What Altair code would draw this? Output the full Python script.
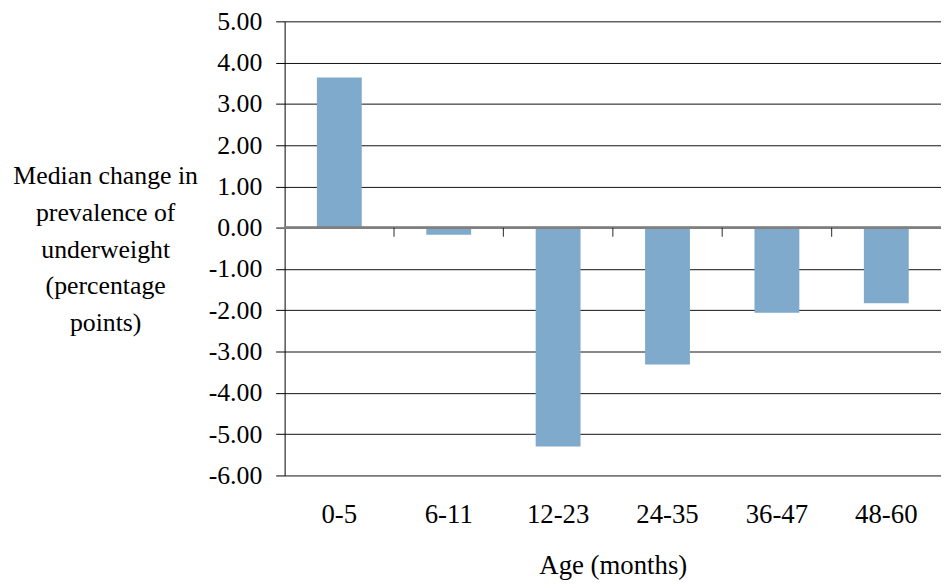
import altair as alt
import pandas as pd

ages = ["0-5", "6-11", "12-23", "24-35", "36-47", "48-60"]
changes = [3.64, -0.17, -5.30, -3.31, -2.06, -1.83]
y_ticks = [-6, -5, -4, -3, -2, -1, 0, 1, 2, 3, 4, 5]
y_title = ["Median change in", "prevalence of", "underweight", "(percentage", "points)"]
x_title = "Age (months)"

df = pd.DataFrame({"age": ages, "change": changes})
bounds = pd.DataFrame({"age": ages[1:]})

FONT = "'Liberation Serif', 'Times New Roman', serif"
W, H = 662, 458
step = W / len(ages)

xscale = alt.Scale(domain=ages, paddingInner=0.59, paddingOuter=0.295)

bars = alt.Chart(df).mark_bar(color="#7FAACB").encode(
    x=alt.X("age:N", scale=xscale, sort=ages,
            axis=alt.Axis(title=x_title, orient="bottom", domain=False, ticks=False, grid=False,
                          labelAngle=0, labelPadding=26, titlePadding=26)),
    y=alt.Y("change:Q", scale=alt.Scale(domain=[-6, 5], nice=False),
            axis=alt.Axis(values=y_ticks, title=y_title,
                          labelExpr="replace(format(datum.value, '.2f'), '\u2212', '-')",
                          grid=True, gridColor="#111111", gridWidth=1,
                          domain=True, domainColor="black", domainWidth=1,
                          ticks=True, tickSize=9, tickColor="black", labelPadding=14,
                          titleAngle=0, titleAlign="center", titleBaseline="middle",
                          titleX=-181, titleY=156, titleLineHeight=37)),
)

zero = alt.Chart(df).mark_rule(color="#808080", strokeWidth=2).encode(
    y=alt.datum(0)
)

ticks = alt.Chart(bounds).mark_tick(color="black", orient="vertical", size=9,
                                    thickness=1.2, xOffset=-step / 2, yOffset=4.5).encode(
    x=alt.X("age:N", scale=xscale, sort=ages),
    y=alt.datum(0),
)

chart = alt.layer(bars, zero, ticks).properties(
    width=W, height=H,
    autosize=alt.AutoSizeParams(type="none"),
    padding={"left": 279, "top": 11, "right": 0, "bottom": 103},
).configure(font=FONT).configure_view(stroke=None).configure_axis(
    labelFont=FONT, labelColor="black",
    titleFont=FONT, titleFontWeight="normal", titleColor="black",
).configure_axisY(labelFontSize=26, titleFontSize=26
).configure_axisX(labelFontSize=27, titleFontSize=27)

chart.save("out.html", embed_options={"renderer": "svg", "actions": False})
